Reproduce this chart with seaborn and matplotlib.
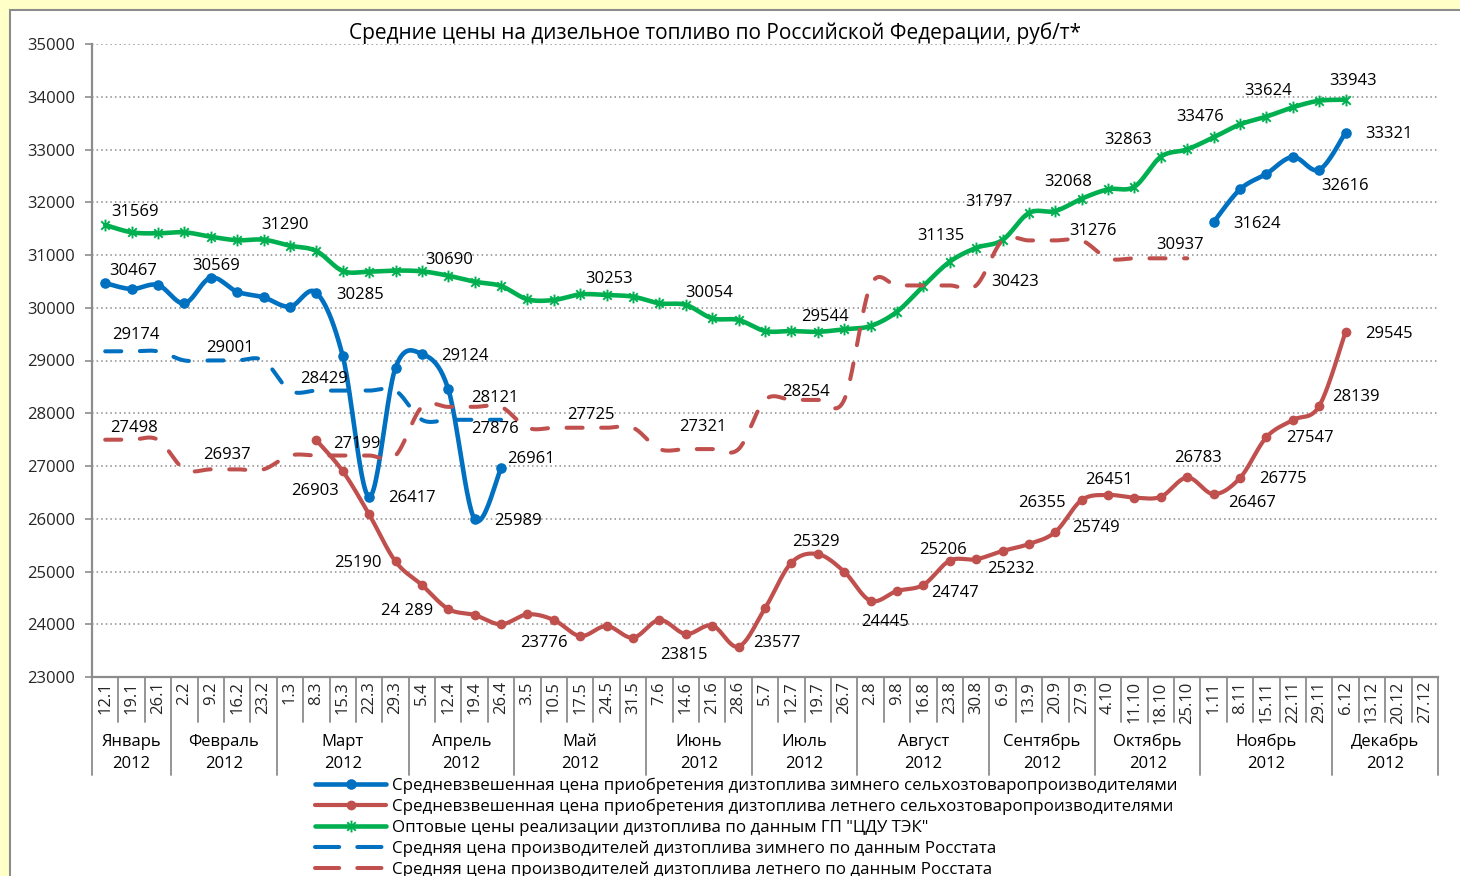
import numpy as np
import pandas as pd
import matplotlib
matplotlib.use("Agg")
import matplotlib.pyplot as plt
import seaborn as sns
from matplotlib.path import Path
from matplotlib.lines import Line2D
from matplotlib.patches import Rectangle
from matplotlib.transforms import blended_transform_factory

nan = np.nan

# ---- categories -----------------------------------------------------------
weeks = ["12.1", "19.1", "26.1", "2.2", "9.2", "16.2", "23.2", "1.3", "8.3", "15.3",
         "22.3", "29.3", "5.4", "12.4", "19.4", "26.4", "3.5", "10.5", "17.5", "24.5",
         "31.5", "7.6", "14.6", "21.6", "28.6", "5.7", "12.7", "19.7", "26.7", "2.8",
         "9.8", "16.8", "23.8", "30.8", "6.9", "13.9", "20.9", "27.9", "4.10", "11.10",
         "18.10", "25.10", "1.11", "8.11", "15.11", "22.11", "29.11", "6.12", "13.12",
         "20.12", "27.12"]
months = ["Январь", "Февраль", "Март", "Апрель", "Май", "Июнь", "Июль", "Август",
          "Сентябрь", "Октябрь", "Ноябрь", "Декабрь"]
weeks_per_month = [3, 4, 5, 4, 5, 4, 4, 5, 4, 4, 5, 4]
year = "2012"

# ---- series, rub/t --------------------------------------------------------
winter_buy = [30467, 30355, 30431, 30084, 30569, 30304, 30198, 30020, 30285, 29085,
              26417, 28864, 29124, 28454, 25989, 26961,
              nan, nan, nan, nan, nan, nan, nan, nan, nan, nan, nan, nan, nan,
              nan, nan, nan, nan, nan, nan, nan, nan, nan, nan, nan, nan, nan,
              31624, 32245, 32541, 32858, 32616, 33321, nan, nan, nan]

summer_buy = [nan, nan, nan, nan, nan, nan, nan, nan,
              27490, 26903, 26084, 25190, 24744, 24289, 24175, 23999, 24188, 24081,
              23776, 23967, 23745, 24081, 23815, 23975, 23577, 24302, 25167, 25329,
              24997, 24445, 24630, 24747, 25206, 25232, 25389, 25521, 25749, 26355,
              26451, 26400, 26418, 26783, 26467, 26775, 27547, 27872, 28139, 29545,
              nan, nan, nan]

wholesale = [31569, 31430, 31411, 31430, 31347, 31280, 31290, 31176, 31076, 30697,
             30685, 30705, 30690, 30608, 30494, 30412, 30160, 30147, 30253, 30242,
             30210, 30084, 30054, 29800, 29768, 29559, 29559, 29544, 29591, 29654,
             29925, 30412, 30873, 31135, 31284, 31797, 31834, 32068, 32245, 32295,
             32863, 33004, 33231, 33476, 33624, 33800, 33925, 33943, nan, nan, nan]

winter_stat = [29174, 29174, 29174, 29001, 29001, 29001, 29001,
               28429, 28429, 28429, 28429, 28429, 27876, 27876, 27876, 27876,
               nan, nan, nan, nan, nan, nan, nan, nan, nan, nan, nan, nan, nan,
               nan, nan, nan, nan, nan, nan, nan, nan, nan, nan, nan, nan, nan,
               nan, nan, nan, nan, nan, nan, nan, nan, nan]

summer_stat = [27498, 27498, 27498, 26937, 26937, 26937, 26937,
               27199, 27199, 27199, 27199, 27199, 28121, 28121, 28121, 28121,
               27725, 27725, 27725, 27725, 27725, 27321, 27321, 27321, 27321,
               28254, 28254, 28254, 28254, 30423, 30423, 30423, 30423, 30423,
               31276, 31276, 31276, 31276, 30937, 30937, 30937, 30937,
               nan, nan, nan, nan, nan, nan, nan, nan, nan]

legend_names = [
    "Средневзвешенная цена приобретения дизтоплива зимнего сельхозтоваропроизводителями",
    "Средневзвешенная цена приобретения дизтоплива летнего сельхозтоваропроизводителями",
    "Оптовые цены реализации дизтоплива по данным ГП \"ЦДУ ТЭК\"",
    "Средняя цена производителей дизтоплива зимнего по данным Росстата",
    "Средняя цена производителей дизтоплива летнего по данным Росстата",
]
title = "Средние цены на дизельное топливо по Российской Федерации, руб/т*"

# labelled points: (week index, dx px, dy px[, thousands separator])
winter_buy_labels = [(0, 28, -12), (4, 5, -12), (8, 44, 2), (12, 43, 2), (10, 43, 1),
                     (14, 43, 2), (15, 30, -9), (42, 43, 2), (46, 26, 16), (47, 43, 1)]
summer_buy_labels = [(9, -28, 20), (11, -38, 2), (13, -41, 2, True), (18, -36, 7),
                     (22, -2, 21), (24, 38, -4), (27, -2, -12), (29, 14, 21), (31, 32, 8),
                     (32, -7, -11), (33, 35, 10), (36, 41, -4), (37, -40, 3), (38, 1, -15),
                     (41, 11, -19), (42, 38, 9), (43, 43, 1), (44, 43, 1), (46, 37, -9),
                     (47, 43, 2)]
wholesale_labels = [(0, 30, -13), (6, 21, -15), (12, 27, -11), (18, 29, -15), (22, 23, -12),
                    (27, 7, -15), (33, -35, -12), (35, -40, -11), (37, -14, -17),
                    (40, -33, -17), (43, -40, -7), (44, 2, -26), (47, 7, -19)]
winter_stat_labels = [(0, 31, -16), (4, 19, -12), (8, 8, -12), (14, 20, 9)]
summer_stat_labels = [(0, 29, -12), (4, 16, -14), (9, 14, -12), (14, 20, -9), (18, 11, -13),
                      (22, 17, -22), (27, -12, -8), (33, 39, -3), (37, 11, -9), (41, -7, -13)]

# ---- style ---------------------------------------------------------------
BLUE, RED, GREEN = "#0070C0", "#C0504D", "#00B050"
GRID, FRAME = "#8a8a8a", "#8c8c8c"
FS = 12

sns.set_style("white")
plt.rcParams["font.family"] = ["Open Sans", "DejaVu Sans"]
plt.rcParams["text.color"] = "black"

W, H = 1460, 876
fig = plt.figure(figsize=(W / 100, H / 100), dpi=100)
fig.patch.set_facecolor("#FFFFC8")
fig.add_artist(Rectangle((10 / W, -0.05), 1.1, 1.05 - 10 / H, transform=fig.transFigure,
                         facecolor="white", edgecolor=FRAME, linewidth=1.5, zorder=-5))

ax = fig.add_axes([92 / W, (H - 677) / H, (1438 - 92) / W, (677 - 44) / H])
ax.set_facecolor("white")
x = np.arange(len(weeks))


def runs(values):
    v = np.asarray(values, dtype=float)
    ok = ~np.isnan(v)
    out, start = [], None
    for i, flag in enumerate(ok):
        if flag and start is None:
            start = i
        if not flag and start is not None:
            out.append((start, i))
            start = None
    if start is not None:
        out.append((start, len(v)))
    return out


def smooth(xs, ys, n=24):
    """Catmull-Rom curve through the points (smoothed line style)."""
    pts = np.column_stack([xs, ys]).astype(float)
    if len(pts) < 2:
        return pts
    ext = np.vstack([pts[0], pts, pts[-1]])
    t = np.linspace(0, 1, n, endpoint=False)[:, None]
    parts = []
    for i in range(len(pts) - 1):
        p0, p1, p2, p3 = ext[i], ext[i + 1], ext[i + 2], ext[i + 3]
        parts.append(0.5 * (2 * p1 + (p2 - p0) * t
                            + (2 * p0 - 5 * p1 + 4 * p2 - p3) * t ** 2
                            + (-p0 + 3 * p1 - 3 * p2 + p3) * t ** 3))
    parts.append(pts[-1:])
    return np.vstack(parts)


star = Path([(0, -1), (0, 1), (-0.72, -0.72), (0.72, 0.72), (-0.72, 0.72), (0.72, -0.72)],
            [Path.MOVETO, Path.LINETO, Path.MOVETO, Path.LINETO, Path.MOVETO, Path.LINETO])

DASH = [4.0, 4.6]
series = [
    dict(v=winter_buy, c=BLUE, lw=3.3, dash=None, marker="o", ms=6.6, labels=winter_buy_labels),
    dict(v=summer_buy, c=RED, lw=3.0, dash=None, marker="o", ms=6.0, labels=summer_buy_labels),
    dict(v=wholesale, c=GREEN, lw=3.3, dash=None, marker=star, ms=8.5, labels=wholesale_labels),
    dict(v=winter_stat, c=BLUE, lw=2.9, dash=DASH, marker=None, ms=0, labels=winter_stat_labels),
    dict(v=summer_stat, c=RED, lw=2.9, dash=DASH, marker=None, ms=0, labels=summer_stat_labels),
]

for z, s in enumerate(series):
    vals = np.asarray(s["v"], dtype=float)
    for a, b in runs(vals):
        curve = smooth(x[a:b], vals[a:b])
        df = pd.DataFrame({"week": curve[:, 0], "price": curve[:, 1]})
        sns.lineplot(data=df, x="week", y="price", ax=ax, color=s["c"], linewidth=s["lw"],
                     sort=False, estimator=None, legend=False, zorder=3 + z)
        line = ax.lines[-1]
        line.set_solid_capstyle("round")
        if s["dash"] is not None:
            line.set_dashes(s["dash"])
            line.set_dash_capstyle("round")
    if s["marker"] is not None:
        if s["marker"] == "o":
            ax.plot(x, vals, ls="none", marker="o", ms=s["ms"], mfc=s["c"], mec=s["c"],
                    zorder=3 + z)
        else:
            ax.plot(x, vals, ls="none", marker=s["marker"], ms=s["ms"], mec=s["c"],
                    mew=1.4, zorder=3 + z)
    for spec in s["labels"]:
        i, dx, dy = spec[:3]
        v = vals[i]
        text = f"{v:,.0f}".replace(",", " ") if len(spec) > 3 else f"{v:.0f}"
        ax.annotate(text, (x[i], v), xytext=(dx, -dy), textcoords="offset pixels",
                    ha="center", va="center", fontsize=FS, zorder=20)

# ---- axes ---------------------------------------------------------------
ax.set_xlim(-0.5, len(weeks) - 0.5)
ax.set_ylim(23000, 35000)
ax.set_yticks(np.arange(23000, 35001, 1000))
ax.set_yticklabels([f"{t}" for t in range(23000, 35001, 1000)], fontsize=FS)
ax.set_xticks(x)
ax.set_xticklabels(weeks, rotation=90, fontsize=FS)
ax.set_xlabel("")
ax.set_ylabel("")
ax.tick_params(axis="x", length=0, pad=3)
ax.tick_params(axis="y", length=5, width=1.2, color=FRAME, pad=7, direction="out", left=True)
ax.yaxis.grid(True, color=GRID, linestyle=(0, (1, 2)), linewidth=1.1)
ax.xaxis.grid(False)
ax.set_axisbelow(True)
for side in ("top", "right"):
    ax.spines[side].set_visible(False)
for side in ("left", "bottom"):
    ax.spines[side].set_color(FRAME)
    ax.spines[side].set_linewidth(1.6)

# multi-level category axis: week cells, month / year captions
trans = blended_transform_factory(ax.transData, ax.transAxes)
axh = 677 - 44
bounds = np.cumsum([0] + weeks_per_month) - 0.5
for b in np.arange(-0.5, len(weeks), 1.0):
    depth = 98 if np.any(np.isclose(bounds, b)) else 45
    ax.plot([b, b], [0, -depth / axh], transform=trans, color=FRAME, lw=1.3,
            clip_on=False, zorder=1)
for m, (lo, hi) in enumerate(zip(bounds[:-1], bounds[1:])):
    cx = (lo + hi) / 2
    ax.text(cx, -(742 - 677) / axh, months[m], transform=trans, ha="center", va="center",
            fontsize=FS)
    ax.text(cx, -(764 - 677) / axh, year, transform=trans, ha="center", va="center",
            fontsize=FS)

fig.text(715 / W, 1 - 33 / H, title, ha="center", va="center", fontsize=15)

LEG_DASH = [6.0, 4.5]
handles = [
    Line2D([], [], color=BLUE, lw=3.3, marker="o", ms=6.6),
    Line2D([], [], color=RED, lw=3.0, marker="o", ms=6.0),
    Line2D([], [], color=GREEN, lw=3.3, marker=star, ms=8.5, mew=1.4),
    Line2D([], [], color=BLUE, lw=2.9, dashes=LEG_DASH, dash_capstyle="round"),
    Line2D([], [], color=RED, lw=2.9, dashes=LEG_DASH, dash_capstyle="round"),
]
fig.legend(handles, legend_names, loc="upper left", bbox_to_anchor=(315 / W, 1 - 778 / H),
           frameon=False, fontsize=12.2, borderpad=0, borderaxespad=0, handlelength=4.2,
           handletextpad=0.36, labelspacing=0.27, numpoints=1)

fig.savefig("out.png", dpi=100, facecolor=fig.get_facecolor())
